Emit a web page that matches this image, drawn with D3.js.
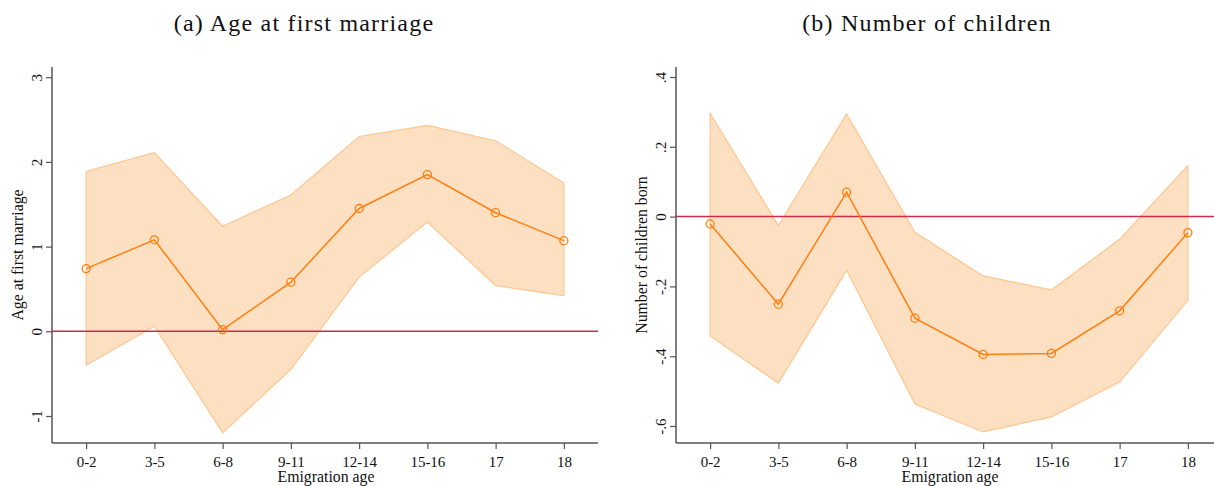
<!DOCTYPE html>
<html><head><meta charset="utf-8">
<script src="https://cdn.jsdelivr.net/npm/d3@7"></script>
<style>
html,body{margin:0;padding:0;background:#fff;}
svg text{font-family:"Liberation Serif","Times New Roman",serif;fill:#111;}
</style></head>
<body><svg id="c" width="1214" height="486"></svg>
<script>
const categories = ["0-2","3-5","6-8","9-11","12-14","15-16","17","18"];
// Panel (a): Age at first marriage
const marriageEst   = [0.74, 1.08, 0.02, 0.58, 1.45, 1.85, 1.40, 1.07];
const marriageUpper = [1.89, 2.11, 1.24, 1.61, 2.30, 2.43, 2.25, 1.75];
const marriageLower = [-0.40, 0.06, -1.20, -0.45, 0.64, 1.29, 0.54, 0.42];
const marriageTicks = [-1, 0, 1, 2, 3];
const marriageTickLabels = ["-1", "0", "1", "2", "3"];
// Panel (b): Number of children
const childrenEst   = [-0.021, -0.251, 0.070, -0.291, -0.395, -0.392, -0.270, -0.046];
const childrenUpper = [0.296, -0.026, 0.294, -0.045, -0.170, -0.210, -0.065, 0.146];
const childrenLower = [-0.342, -0.477, -0.154, -0.537, -0.617, -0.574, -0.474, -0.240];
const childrenTicks = [-0.6, -0.4, -0.2, 0, 0.2, 0.4];
const childrenTickLabels = ["-.6", "-.4", "-.2", "0", ".2", ".4"];

const svg = d3.select("#c");
const AX = "#555";
const ORANGE = "#ff7f0e";

function panel(o){
  const g = svg.append("g");
  const x = d3.scalePoint().domain(categories).range([o.x0, o.x0 + 546]).padding(0.5);
  const y = d3.scaleLinear().domain(o.domain).range(o.range);
  const rows = categories.map((c,i)=>({c, est:o.est[i], lo:o.lo[i], hi:o.hi[i]}));

  // CI band
  g.append("path").datum(rows)
    .attr("d", d3.area().x(d=>x(d.c)).y0(d=>y(d.lo)).y1(d=>y(d.hi)))
    .attr("fill", "#fddfc2").attr("stroke", "#fdc690").attr("stroke-width", 1.2);

  // zero line
  g.append("line").attr("x1", o.x0).attr("x2", o.x0 + 546)
    .attr("y1", y(0)).attr("y2", y(0))
    .attr("stroke", "#cc2b4e").attr("stroke-width", 1.5);

  // estimate line
  g.append("path").datum(rows)
    .attr("d", d3.line().x(d=>x(d.c)).y(d=>y(d.est)))
    .attr("fill", "none").attr("stroke", ORANGE).attr("stroke-width", 1.5);
  g.selectAll("circle.m").data(rows).join("circle")
    .attr("cx", d=>x(d.c)).attr("cy", d=>y(d.est)).attr("r", 4)
    .attr("fill", "none").attr("stroke", ORANGE).attr("stroke-width", 1.3);

  // y axis
  const yAxis = g.append("g").attr("transform", `translate(${o.x0},0)`)
    .call(d3.axisLeft(y).tickValues(o.ticks).tickSize(6).tickFormat((d,i)=>o.tickLabels[i]));
  yAxis.select(".domain").attr("d", `M0,${o.yTop}V443`).attr("stroke", AX).attr("stroke-width", 1.5);
  yAxis.selectAll(".tick line").attr("stroke", AX).attr("stroke-width", 1.2);
  yAxis.selectAll(".tick text")
    .attr("x", null).attr("dy", null)
    .attr("transform", "translate(-10,0) rotate(-90)")
    .attr("text-anchor", "middle")
    .style("font-size", "15px").style("font-family", '"Liberation Serif",serif').attr("fill", "#111");

  // x axis
  const xAxis = g.append("g").attr("transform", "translate(0,443)")
    .call(d3.axisBottom(x).tickSize(6).tickSizeOuter(0));
  xAxis.select(".domain").attr("d", `M${o.x0},0H${o.x0 + 546}`).attr("stroke", AX).attr("stroke-width", 1.5);
  xAxis.selectAll(".tick line").attr("stroke", AX).attr("stroke-width", 1.2);
  xAxis.selectAll(".tick text").attr("y", 13).attr("dy", "0.71em")
    .style("font-size", "15px").style("font-family", '"Liberation Serif",serif').attr("fill", "#111");

  g.append("text").attr("x", x(categories[0]) + (x(categories[7]) - x(categories[0]))/2 + 1).attr("y", 482)
    .attr("text-anchor", "middle").style("font-size", "15.8px").text("Emigration age");

  g.append("text")
    .attr("transform", `translate(${o.ytx},255) rotate(-90)`)
    .attr("text-anchor", "middle").style("font-size", "15.8px").text(o.ylabel);

  g.append("text").attr("x", o.tx).attr("y", 31).attr("text-anchor", "middle")
    .style("font-size", "24px").style("letter-spacing", "1.2px").text(o.title);
}

panel({x0:52, domain:[-1,3], range:[416,77.2], est:marriageEst, lo:marriageLower, hi:marriageUpper,
  ticks:marriageTicks, tickLabels:marriageTickLabels, yTop:67, ytx:23, ylabel:"Age at first marriage",
  title:"(a) Age at first marriage", tx:304});
panel({x0:676, domain:[-0.6,0.4], range:[426,77], est:childrenEst, lo:childrenLower, hi:childrenUpper,
  ticks:childrenTicks, tickLabels:childrenTickLabels, yTop:67, ytx:647, ylabel:"Number of children born",
  title:"(b) Number of children", tx:927});
</script></body></html>
